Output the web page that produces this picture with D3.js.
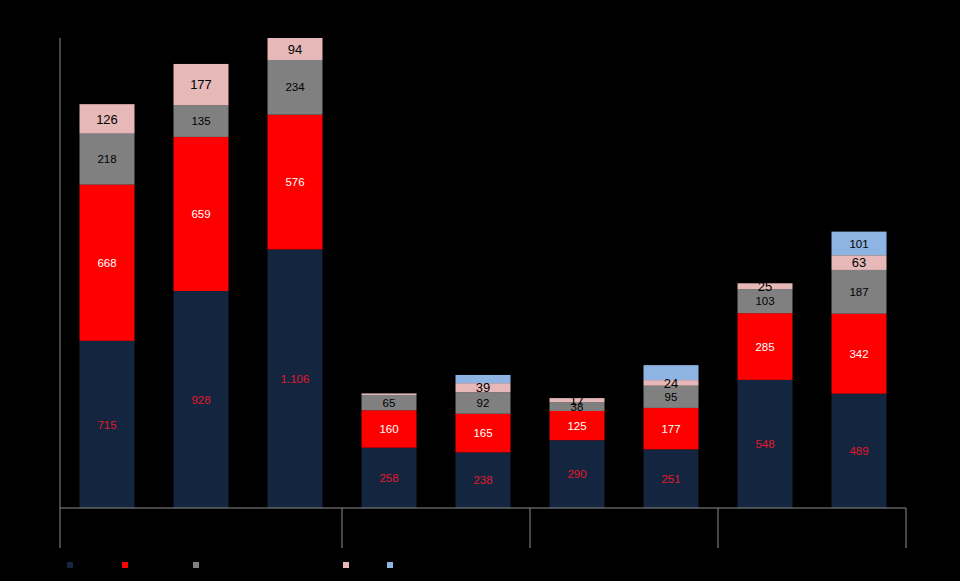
<!DOCTYPE html>
<html>
<head>
<meta charset="utf-8">
<script src="https://cdn.jsdelivr.net/npm/d3@7"></script>
<style>
  html, body { margin: 0; padding: 0; background: #000; }
  svg { display: block; }
</style>
</head>
<body>
<svg id="chart" width="960" height="581"></svg>
<script>
// ---- data ----
const bars = ["b1", "b2", "b3", "b4", "b5", "b6", "b7", "b8", "b9"];
const groupSizes = [3, 2, 2, 2];
const seriesKeys = ["s1", "s2", "s3", "s4", "s5"];
const s1 = [715, 928, 1106, 258, 238, 290, 251, 548, 489];
const s2 = [668, 659, 576, 160, 165, 125, 177, 285, 342];
const s3 = [218, 135, 234, 65, 92, 38, 95, 103, 187];
const s4 = [126, 177, 94, 7, 39, 17, 24, 25, 63];
const s5 = [0, 0, 0, 0, 35, 0, 64, 0, 101];
// which segment values carry a printed label
const s4Shown = [true, true, true, false, true, true, true, true, true];
const s5Shown = [false, false, false, false, false, false, false, false, true];

const seriesValues = [s1, s2, s3, s4, s5];
const seriesColors = ["#14253f", "#ff0000", "#808080", "#e6b9b8", "#8db4e2"];
const labelColors = ["#e0192c", "#ffffff", "#000000", "#000000", "#000000"];
const labelSizes = [11.5, 11.5, 11.5, 13, 11.5];
const shownFlags = [null, null, null, s4Shown, s5Shown];

const rows = bars.map((b, i) => {
  const r = { bar: b };
  seriesKeys.forEach((k, j) => { r[k] = seriesValues[j][i]; });
  return r;
});

const svg = d3.select("#chart");
const locale = d3.formatLocale({ decimal: ",", thousands: ".", grouping: [3], currency: ["", "€"] });
const fmt = locale.format(",d");

const x = d3.scaleBand().domain(bars).range([60, 906]).paddingInner(0.415).paddingOuter(0.2075);
const y = d3.scaleLinear().domain([0, 2010]).range([508, 38]);

const stack = d3.stack().keys(seriesKeys)(rows);

const layers = svg.append("g").selectAll("g").data(stack).join("g")
  .attr("fill", (d, i) => seriesColors[i]);

layers.selectAll("rect").data(d => d).join("rect")
  .attr("x", d => x(d.data.bar))
  .attr("width", x.bandwidth())
  .attr("y", d => y(d[1]))
  .attr("height", d => y(d[0]) - y(d[1]));

// labels
stack.forEach((layer, si) => {
  svg.append("g").selectAll("text").data(layer.filter((d, i) => {
    const v = d[1] - d[0];
    if (v <= 0) return false;
    const flags = shownFlags[si];
    return flags ? flags[i] : true;
  })).join("text")
    .attr("x", d => x(d.data.bar) + x.bandwidth() / 2)
    .attr("y", d => (y(d[0]) + y(d[1])) / 2)
    .attr("dy", "0.36em")
    .attr("text-anchor", "middle")
    .attr("font-family", "Liberation Sans, Arial, sans-serif")
    .attr("font-size", labelSizes[si])
    .attr("fill", labelColors[si])
    .text(d => fmt(d[1] - d[0]));
});

// axes
const axisColor = "#8c8c8c";
svg.append("line").attr("x1", 60).attr("x2", 60).attr("y1", y(2010)).attr("y2", y(0))
  .attr("stroke", axisColor).attr("stroke-width", 1);
svg.append("line").attr("x1", 60).attr("x2", 906).attr("y1", y(0)).attr("y2", y(0))
  .attr("stroke", axisColor).attr("stroke-width", 1);

// group separators
const step = x.step();
let acc = 0;
const sepIdx = [0];
groupSizes.forEach(g => { acc += g; sepIdx.push(acc); });
svg.append("g").selectAll("line").data(sepIdx).join("line")
  .attr("x1", i => 60 + i * step).attr("x2", i => 60 + i * step)
  .attr("y1", y(0)).attr("y2", 548)
  .attr("stroke", axisColor).attr("stroke-width", 1);

// legend swatches
const legendX = [67, 122, 193, 343, 387];
svg.append("g").selectAll("rect").data(seriesKeys).join("rect")
  .attr("x", (d, i) => legendX[i])
  .attr("y", 562)
  .attr("width", 6)
  .attr("height", 6)
  .attr("fill", (d, i) => seriesColors[i]);
</script>
</body>
</html>
